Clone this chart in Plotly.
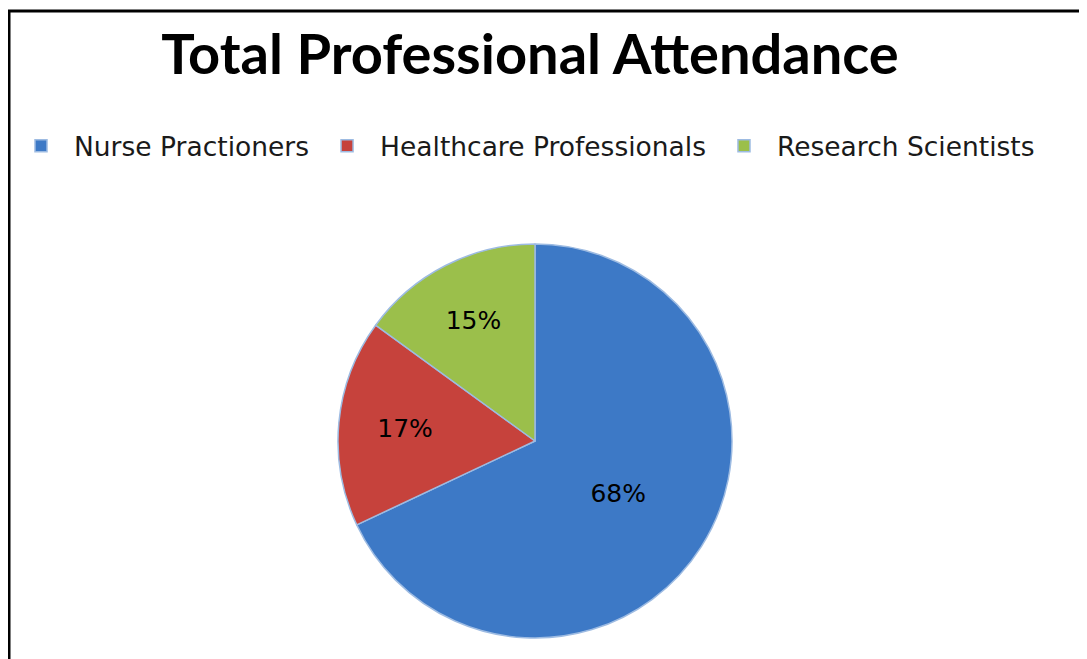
import plotly.graph_objects as go

labels = ["Nurse Practioners", "Healthcare Professionals", "Research Scientists"]
values = [68, 17, 15]
colors = ["#3d79c6", "#c6423c", "#9bbf4b"]

W, H = 1087, 659

fig = go.Figure()
fig.add_trace(go.Pie(
    labels=labels,
    values=values,
    sort=False,
    direction="clockwise",
    rotation=0,
    marker=dict(colors=colors, line=dict(color="#9dbbe2", width=1.5)),
    textinfo="percent",
    textposition="inside",
    insidetextorientation="horizontal",
    textfont=dict(family="DejaVu Sans", size=25, color="#000000"),
    domain=dict(x=[330 / W, 724 / W], y=[(H - 630) / H, (H - 236) / H]),
    hoverinfo="label+percent",
))

fig.update_layout(
    width=W, height=H,
    margin=dict(l=0, r=0, t=0, b=0),
    paper_bgcolor="white",
    plot_bgcolor="white",
    title=dict(
        text="<b>Total Professional Attendance</b>",
        x=522 / W, xanchor="center",
        y=1 - 46 / H, yanchor="middle",
        font=dict(family="Lato", size=56, color="#000000"),
    ),
    legend=dict(
        orientation="h",
        x=0, xanchor="left",
        y=1 - 138 / H, yanchor="middle",
        font=dict(family="DejaVu Sans", size=26.5, color="#1a1a1a"),
        bgcolor="rgba(0,0,0,0)",
        itemwidth=56,
    ),
    shapes=[dict(
        type="rect", xref="paper", yref="paper",
        x0=1 / W, x1=1.02, y0=-0.02, y1=1 - 3 / H,
        line=dict(color="#000000", width=3),
        fillcolor="rgba(0,0,0,0)",
    )],
)

fig.write_html("out.html")
